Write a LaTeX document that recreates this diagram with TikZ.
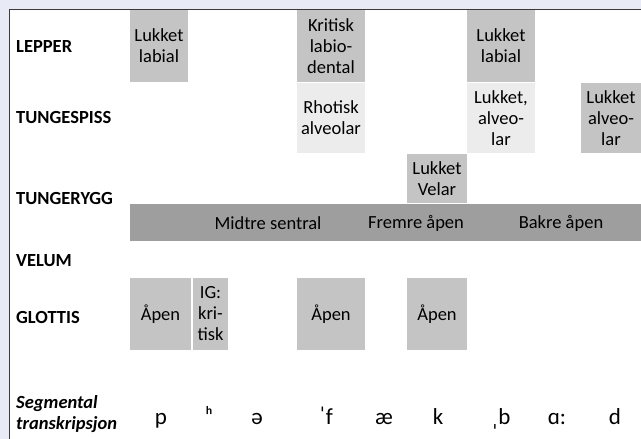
\documentclass[tikz,border=0pt]{standalone}
\usepackage{fontspec}
\setmainfont{Carlito}
\definecolor{framebg}{HTML}{E8EBF6}
\definecolor{framerule}{HTML}{3A3A3A}
\definecolor{boxgrey}{HTML}{C4C4C4}
\definecolor{boxlight}{HTML}{ECECEC}
\definecolor{bargrey}{HTML}{9D9E9D}
\begin{document}
\begin{tikzpicture}[x=1pt,y=-1pt,
  cell/.style={inner sep=0pt, align=center, text=black,
    font=\fontsize{18.5}{21}\selectfont},
  darkcell/.style={cell, fill=boxgrey},
  lightcell/.style={cell, fill=boxlight},
  barcell/.style={cell, fill=bargrey},
  rowlabel/.style={inner sep=0pt, anchor=west, align=left, text=black,
    font=\fontsize{18.5}{21}\selectfont\bfseries},
  seg/.style={inner sep=0pt, anchor=base, text=black,
    font=\fontsize{23}{26}\selectfont},
  bartext/.style={inner sep=0pt, text=black,
    font=\fontsize{18.5}{21}\selectfont}]
\useasboundingbox (0,0) rectangle (641,439);
% frame and white panel
\fill[framebg] (0,0) rectangle (641,439);
\fill[white] (9.5,9.5) rectangle (641,439);
\draw[framerule, line width=1.2pt] (641,9.5) -- (9.5,9.5) -- (9.5,439);

% row labels
\node[rowlabel] (lepper) at (16,47) {LEPPER};
\node[rowlabel] (tspiss) at (16,118) {TUNGESPISS};
\node[rowlabel] (trygg) at (16,199) {TUNGERYGG};
\node[rowlabel] (velum) at (16,261) {VELUM};
\node[rowlabel] (glottis) at (16,317) {GLOTTIS};
\node[rowlabel, font=\fontsize{18.5}{21}\selectfont\bfseries\itshape] (segm) at (16,414) {Segmental\\transkripsjon};

% lips
\node[darkcell, minimum width=58, minimum height=72] (lab1) at (159,46) {Lukket\\labial};
\node[darkcell, minimum width=68, minimum height=72] (krit) at (331,46) {Kritisk\\labio-\\dental};
\node[darkcell, minimum width=68, minimum height=72] (lab2) at (501,46) {Lukket\\labial};

% tongue tip
\node[lightcell, minimum width=68, minimum height=70] (rhot) at (331,118) {Rhotisk\\alveolar};
\node[lightcell, minimum width=68, minimum height=70] (alv1) at (501,118) {Lukket,\\alveo-\\lar};
\node[darkcell, minimum width=60, minimum height=70] (alv2) at (611,118) {Lukket\\alveo-\\lar};

% tongue body
\node[darkcell, minimum width=60, minimum height=49] (velar) at (437,178.5) {Lukket\\Velar};
\node[barcell, minimum width=511, minimum height=37] (bar) at (385.5,222.5) {};
\node[bartext] (midtre) at (268,223) {Midtre sentral};
\node[bartext] (fremre) at (416,223) {Fremre åpen};
\node[bartext] (bakre) at (561,223) {Bakre åpen};

% glottis
\node[darkcell, minimum width=61, minimum height=72] (apen1) at (160.5,314) {Åpen};
\node[darkcell, minimum width=35, minimum height=72] (ig) at (210.5,314) {IG:\\kri-\\tisk};
\node[darkcell, minimum width=68, minimum height=72] (apen2) at (331,314) {Åpen};
\node[darkcell, minimum width=60, minimum height=72] (apen3) at (437,314) {Åpen};

% segmental transcription
\node[seg] (s1) at (161,424) {p};
\node[seg] (s2) at (209,424) {ʰ};
\node[seg] (s3) at (257,424) {ə};
\node[seg] (s4) at (326,424) {ˈf};
\node[seg] (s5) at (384,424) {æ};
\node[seg] (s6) at (438,424) {k};
\node[seg] (s7) at (501,424) {ˌb};
\node[seg] (s8) at (557,424) {ɑ:};
\node[seg] (s9) at (615,424) {d};
\end{tikzpicture}
\end{document}
